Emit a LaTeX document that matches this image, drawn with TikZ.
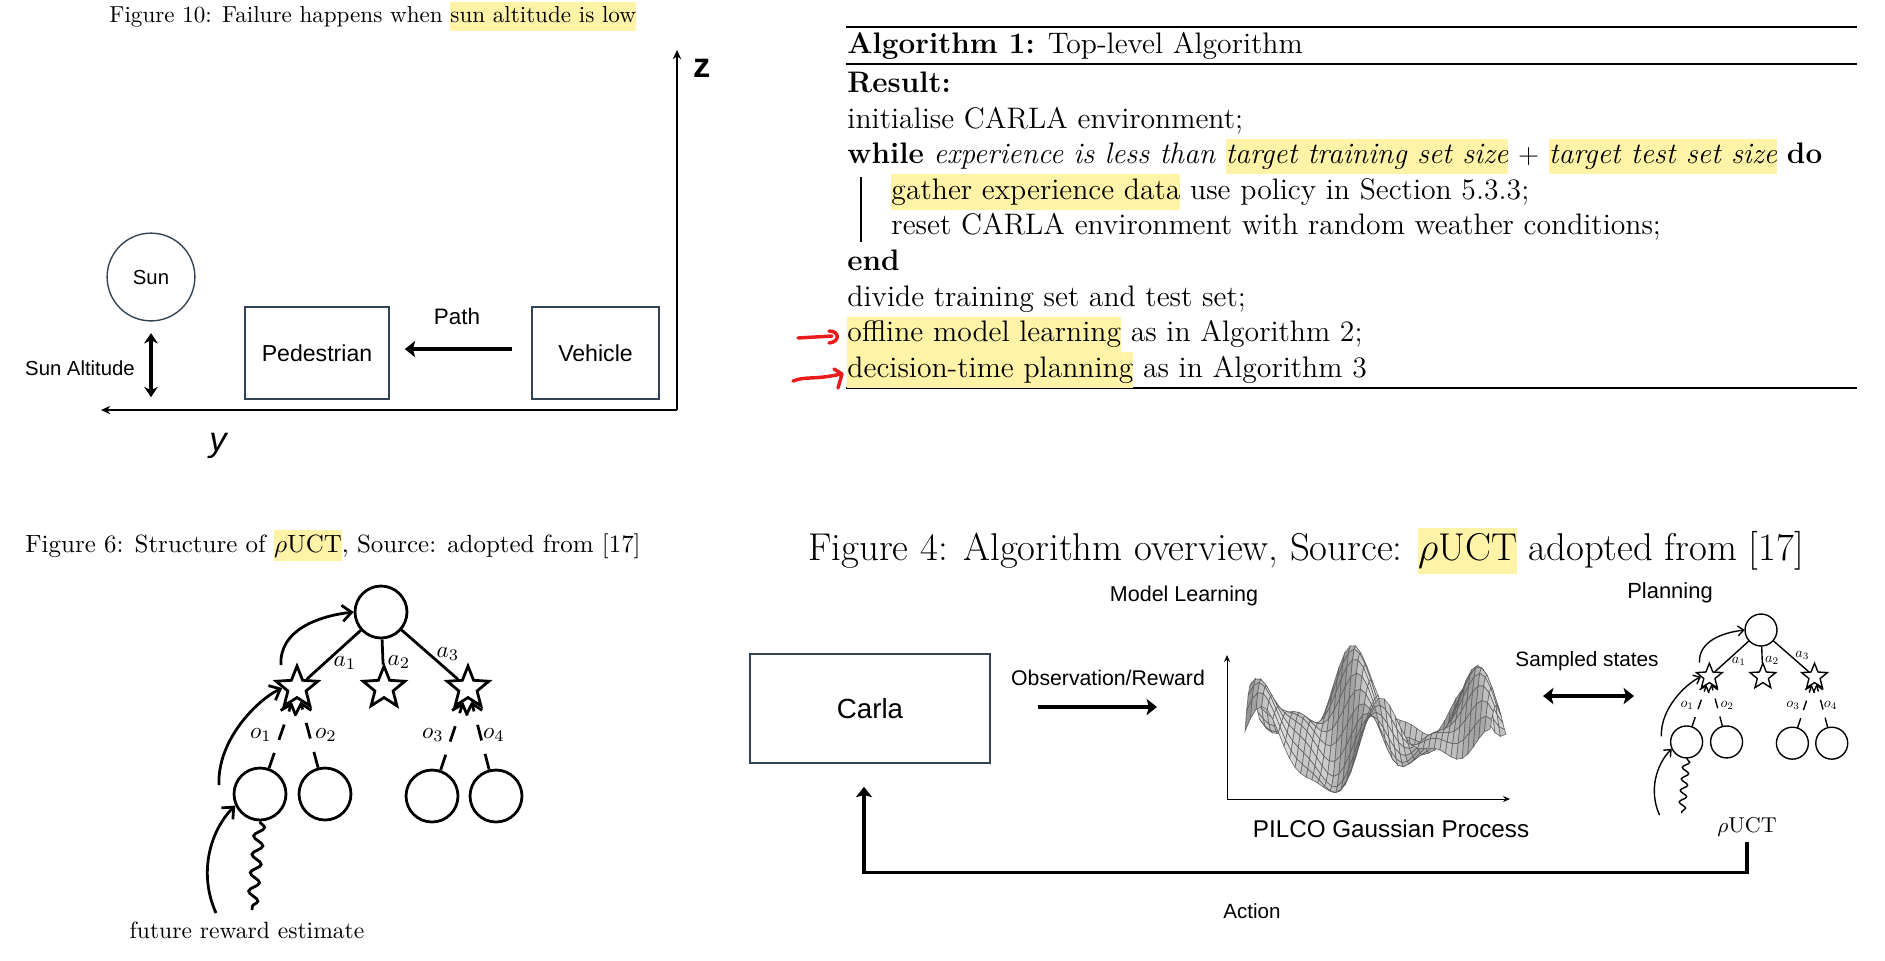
\documentclass[tikz,border=0pt]{standalone}
\usepackage{fontspec}
\setsansfont{Liberation Sans}
\usetikzlibrary{arrows.meta,positioning,shapes.geometric,decorations.pathmorphing,calc}
\definecolor{slate}{RGB}{50,68,84}
\definecolor{hlyellow}{RGB}{255,243,168}
\definecolor{pen}{RGB}{232,28,28}
\newcommand{\hlbox}[1]{{\setlength{\fboxsep}{0pt}\colorbox{hlyellow}{\strut#1}}}
\newcommand{\sfat}[1]{\fontsize{#1}{#1}\selectfont\sffamily}
\tikzset{
  scenebox/.style={draw=slate,line width=0.6pt,minimum height=39.8pt,font=\sfat{10pt}},
  sunnode/.style={circle,draw=slate,line width=0.6pt,minimum size=38pt,font=\sfat{8.8pt}},
  lbl/.style={font=\sfat{#1},inner sep=0pt},
  lbl/.default=9pt,
  axisline/.style={line width=0.6pt,-{Stealth[length=4pt,width=3.6pt]}},
  bold arrow/.style={line width=1.5pt,-{Stealth[length=4.5pt,width=7pt,inset=1pt]}},
  both tips/.style={line width=1.5pt,{Stealth[length=4.5pt,width=7pt,inset=1pt]}-{Stealth[length=4.5pt,width=7pt,inset=1pt]}},
  algline/.style={anchor=base west,inner sep=0pt,font=\fontsize{12.85pt}{15.4pt}\selectfont},
  redpen/.style={draw=pen,line width=1.5pt,line cap=round,line join=round},
  meshcell/.style={fill=black!#1,draw=black!62,line width=0.25pt},
  % tree parts
  treeline/.style={line width=1.2pt},
  treetip/.style={-{Straight Barb[length=4pt,width=7pt]}},
  obsdash/.style={dash pattern=on 7pt off 6pt},
  wavy/.style={decorate,decoration={snake,amplitude=2.2pt,segment length=8pt}},
  statenode/.style={circle,draw,treeline,minimum size=22.5pt,inner sep=0pt},
  actnode/.style={star,star points=5,star point ratio=2.3,draw,treeline,minimum size=19pt,inner sep=0pt},
  edgelbl/.style={font=\normalsize,inner sep=0pt},
  pics/uct/.style={code={
    \node[statenode] (root) at (0,0) {};
    \node[actnode] (s1) at (-84,76) {};
    \node[actnode] (s2) at (3,76) {};
    \node[actnode] (s3) at (87,76) {};
    \foreach \nm/\x/\y in {c1/-121/182,c2/-56/182,c3/51/184,c4/115/184}
      \node[statenode] (\nm) at (\x,\y) {};
    \foreach \sn in {s1,s2,s3} \draw[treeline] (root) -- (\sn);
    \foreach \cn/\sn in {c1/s1,c2/s1,c3/s3,c4/s3} \draw[treeline,obsdash,treetip] (\cn) -- (\sn);
    \foreach \lab/\x/\y in {a_1/-36/51,a_2/18/50,a_3/67/42,o_1/-120/123,o_2/-55/123,o_3/52/123,o_4/113/123}
      \node[edgelbl] at (\x,\y) {$\lab$};
    \coordinate (up1) at (-100,53);
    \coordinate (up2) at (-162,173);
    \coordinate (up3) at (-165,301);
    \coordinate (wave) at (-129,298);
    \draw[treeline,treetip] (up1) .. controls +(-2,-35) and +(-35,4) .. (root.west);
    \draw[treeline,treetip] (up2) .. controls +(-2,-45) and +(-25,12) .. (s1.west);
    \draw[treeline,treetip] (up3) .. controls +(-18,-40) and +(-25,25) .. (c1.205);
    \draw[treeline,wavy] (c1.south) -- (wave);
  }},
}

\begin{document}
\begin{tikzpicture}[x=0.433pt,y=-0.433pt,
  declare function={gph(\u,\v)=28*sin(820*\u+140*\v)+22*cos(470*\u-230*\v+40)+12*sin(1500*\u+260*\v);
    gpx(\u,\v)=1245+245*\u+16*\v; gpy(\u,\v)=748-42*\v-gph(\u,\v);}]
  \useasboundingbox (0,0) rectangle (1885,960);

  % Figure 10
  \node[anchor=base west,inner sep=0pt,font=\fontsize{10pt}{12.6pt}\selectfont] (cap10) at (109,22)
    {Figure 10: Failure happens when \hlbox{sun altitude is low}};
  \coordinate (origin) at (677,410);
  \coordinate (zend) at (677,50);
  \coordinate (yend) at (101,410);
  \draw[axisline] (origin) -- (zend);
  \draw[axisline] (origin) -- (yend);
  \node[lbl=15pt] (zlab) at (702,68) {\bfseries z};
  \node[lbl=15pt] (ylab) at (218,446) {\itshape y};
  \node[sunnode] (sun) at (151,277) {Sun};
  \node[lbl=8.8pt] (alt) at (80,368) {Sun Altitude};
  \draw[line width=1.6pt,{Stealth[length=4.5pt,width=6pt]}-{Stealth[length=4.5pt,width=6pt]}] ([yshift=-5pt]sun.south) -- ++(0,64);
  \node[scenebox,minimum width=62.4pt] (ped) at (317,353) {Pedestrian};
  \node[scenebox,minimum width=55pt] (veh) at (595.5,353) {Vehicle};
  \draw[bold arrow] ([xshift=-8.2pt,yshift=1.7pt]veh.west) -- ([xshift=6.5pt,yshift=1.7pt]ped.east);
  \node[lbl=9.7pt] (path) at (457,316) {Path};

  % Algorithm 1
  \draw[line width=0.9pt] (846,27) -- (1857,27);
  \draw[line width=0.6pt] (846,64) -- (1857,64);
  \draw[line width=0.9pt] (846,388) -- (1857,388);
  \node[algline] (atitle) at (847,53) {\textbf{Algorithm 1:} Top-level Algorithm};
  \node[algline] (res) at (847,92.5) {\textbf{Result:}};
  \node[algline] (init) at (847,128.1) {initialise CARLA environment;};
  \node[algline] (lwhile) at (847,163.7) {\textbf{while} \textit{experience is less than} \hlbox{\textit{target training set size}} $+$ \hlbox{\textit{target test set size}} \textbf{do}};
  \node[algline] (gather) at (891,199.3) {\hlbox{gather experience data} use policy in Section 5.3.3;};
  \node[algline] (reset) at (891,234.9) {reset CARLA environment with random weather conditions;};
  \node[algline] (lend) at (847,270.5) {\textbf{end}};
  \node[algline] (divide) at (847,306.1) {divide training set and test set;};
  \node[algline] (offl) at (847,341.7) {\hlbox{offline model learning} as in Algorithm 2;};
  \node[algline] (plan) at (847,377.3) {\hlbox{decision-time planning} as in Algorithm 3};
  \draw[line width=0.6pt] (861,177) -- (861,242);
  \draw[redpen] (798,338) -- (832,336);
  \draw[redpen] (829,331) .. controls (840,331) and (840,342) .. (829,343);
  \draw[redpen] (793,381) .. controls (805,376) and (815,380) .. (841,374);
  \draw[redpen] (834,369) -- (842,374) -- (838,388);

  % Figure 6
  \node[anchor=base west,inner sep=0pt,font=\fontsize{10.8pt}{13.4pt}\selectfont] (cap6) at (25,552)
    {Figure 6: Structure of \hlbox{$\rho$UCT}, Source: adopted from [17]};
  \pic (big) at (381,612) {uct};
  \node[font=\fontsize{10.2pt}{12pt}\selectfont] (future) at (247,930) {future reward estimate};

  % Figure 4
  \node[anchor=base west,inner sep=0pt,font=\fontsize{16.8pt}{20pt}\selectfont] (cap4) at (808,560)
    {Figure 4: Algorithm overview, Source: \hlbox{$\rho$UCT} adopted from [17]};
  \node[draw=slate,line width=0.6pt,minimum width=104pt,minimum height=47.2pt,font=\sfat{12pt}] (carla) at (870,708.5) {Carla};
  \node[lbl=9.2pt] (obs) at (1108,678) {Observation/Reward};
  \coordinate (obs0) at (1038,707);
  \coordinate (obs1) at (1157,707);
  \draw[bold arrow] (obs0) -- (obs1);
  \node[lbl=9.3pt] (ml) at (1184,596) {Model Learning};
  \foreach \j in {9,...,0}{
    \foreach \i in {0,...,43}{
      \pgfmathsetmacro\ua{\i/44}\pgfmathsetmacro\ub{(\i+1)/44}
      \pgfmathsetmacro\va{\j/10}\pgfmathsetmacro\vb{(\j+1)/10}
      \pgfmathtruncatemacro\sh{28+max(-14,min(24,1.1*(gph(\ub,\va)-gph(\ua,\va))))}
      \filldraw[meshcell=\sh] ({gpx(\ua,\va)},{gpy(\ua,\va)}) -- ({gpx(\ub,\va)},{gpy(\ub,\va)})
        -- ({gpx(\ub,\vb)},{gpy(\ub,\vb)}) -- ({gpx(\ua,\vb)},{gpy(\ua,\vb)}) -- cycle;
    }
  }
  \coordinate (gpo) at (1227,799);
  \coordinate (gptop) at (1227,655);
  \coordinate (gpright) at (1510,799);
  \draw[line width=0.45pt,-{Stealth[length=3pt,width=2.6pt]}] (gpo) -- (gptop);
  \draw[line width=0.45pt,-{Stealth[length=3pt,width=2.6pt]}] (gpo) -- (gpright);
  \node[lbl=10.5pt] (pilco) at (1391,829) {PILCO Gaussian Process};
  \node[lbl=9pt] (sampled) at (1587,661) {Sampled states};
  \coordinate (ss0) at (1543,696);
  \coordinate (ss1) at (1634,696);
  \draw[both tips] (ss0) -- (ss1);
  \node[lbl=9.5pt] (planning) at (1670,593) {Planning};
  \pic[scale=0.615,transform shape,treeline/.style={line width=0.6pt},
    treetip/.style={-{Straight Barb[length=2.5pt,width=4.3pt]}},
    obsdash/.style={dash pattern=on 4.3pt off 3.7pt},
    wavy/.style={decorate,decoration={snake,amplitude=1.5pt,segment length=5pt}}] (small) at (1761,630) {uct};
  \node[font=\fontsize{9.3pt}{11pt}\selectfont,inner sep=2pt] (puct) at (1747,827) {$\rho$UCT};
  \draw[line width=1.4pt,-{Stealth[length=4.5pt,width=7pt,inset=1pt]}] (puct.south) -- ++(0,31)
    -| ([xshift=-2.6pt,yshift=-10pt]carla.south);
  \node[lbl=8.9pt] (action) at (1252,911) {Action};
\end{tikzpicture}
\end{document}
